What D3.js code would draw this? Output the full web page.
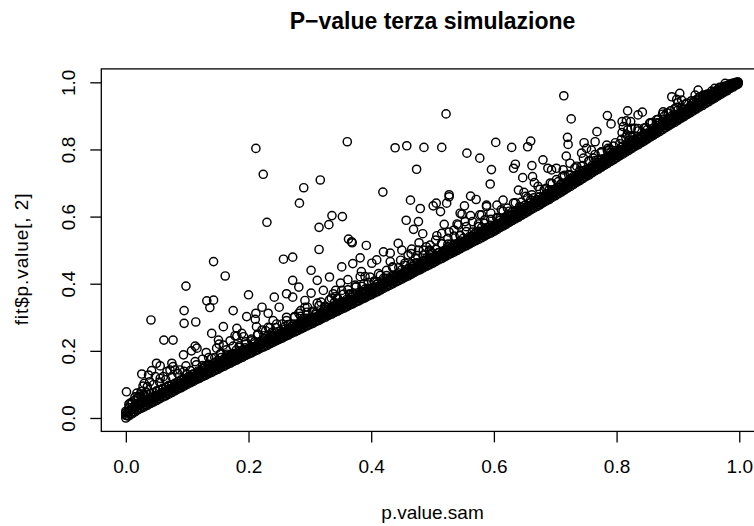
<!DOCTYPE html>
<html>
<head>
<meta charset="utf-8">
<script src="https://cdn.jsdelivr.net/npm/d3@7"></script>
<style>
  body { margin: 0; background: #fff; }
  text { font-family: "Liberation Sans", Arial, Helvetica, sans-serif; fill: #000; }
</style>
</head>
<body>
<div id="chart"></div>
<script>
// P-value scatter (R base-graphics look): dense band near the lower bound + scattered points above

const xTicks = [0, 0.2, 0.4, 0.6, 0.8, 1.0];
const yTicks = [0, 0.2, 0.4, 0.6, 0.8, 1.0];

// dense band: x positions and layers of y
const bandX = [0,0.005,0.01,0.015,0.02,0.025,0.03,0.035,0.04,0.045,0.05,0.055,0.06,0.065,0.07,0.075,0.08,0.085,0.09,0.095,0.1,
  0.105,0.11,0.115,0.12,0.125,0.13,0.135,0.14,0.145,0.15,0.155,0.16,0.165,0.17,0.175,0.18,0.185,0.19,0.195,0.2,
  0.205,0.21,0.215,0.22,0.225,0.23,0.235,0.24,0.245,0.25,0.255,0.26,0.265,0.27,0.275,0.28,0.285,0.29,0.295,0.3,
  0.305,0.31,0.315,0.32,0.325,0.33,0.335,0.34,0.345,0.35,0.355,0.36,0.365,0.37,0.375,0.38,0.385,0.39,0.395,0.4,
  0.405,0.41,0.415,0.42,0.425,0.43,0.435,0.44,0.445,0.45,0.455,0.46,0.465,0.47,0.475,0.48,0.485,0.49,0.495,0.5,
  0.505,0.51,0.515,0.52,0.525,0.53,0.535,0.54,0.545,0.55,0.555,0.56,0.565,0.57,0.575,0.58,0.585,0.59,0.595,0.6,
  0.605,0.61,0.615,0.62,0.625,0.63,0.635,0.64,0.645,0.65,0.655,0.66,0.665,0.67,0.675,0.68,0.685,0.69,0.695,0.7,
  0.705,0.71,0.715,0.72,0.725,0.73,0.735,0.74,0.745,0.75,0.755,0.76,0.765,0.77,0.775,0.78,0.785,0.79,0.795,0.8,
  0.805,0.81,0.815,0.82,0.825,0.83,0.835,0.84,0.845,0.85,0.855,0.86,0.865,0.87,0.875,0.88,0.885,0.89,0.895,0.9,
  0.905,0.91,0.915,0.92,0.925,0.93,0.935,0.94,0.945,0.95,0.955,0.96,0.965,0.97,0.975,0.98,0.985,0.99,0.995,0.998];

const bandLow = [0,0.006,0.012,0.018,0.024,0.029,0.033,0.038,0.043,0.047,0.052,0.057,0.062,0.066,0.071,0.076,0.081,0.086,0.090,0.095,0.100,
  0.105,0.109,0.114,0.118,0.123,0.127,0.132,0.136,0.141,0.145,0.150,0.154,0.159,0.163,0.168,0.172,0.177,0.181,0.186,0.190,
  0.194,0.199,0.203,0.208,0.212,0.216,0.221,0.225,0.230,0.234,0.238,0.243,0.247,0.252,0.256,0.260,0.265,0.269,0.274,0.278,
  0.282,0.287,0.291,0.296,0.300,0.305,0.309,0.314,0.318,0.323,0.327,0.331,0.336,0.340,0.345,0.349,0.354,0.358,0.363,0.367,
  0.372,0.376,0.381,0.386,0.391,0.395,0.400,0.405,0.409,0.414,0.419,0.423,0.428,0.433,0.438,0.442,0.447,0.452,0.456,0.461,
  0.466,0.471,0.475,0.480,0.485,0.490,0.494,0.499,0.504,0.509,0.513,0.518,0.523,0.528,0.532,0.537,0.542,0.547,0.551,0.556,
  0.561,0.567,0.572,0.577,0.583,0.588,0.593,0.598,0.604,0.609,0.614,0.620,0.625,0.630,0.635,0.641,0.646,0.651,0.657,0.662,
  0.668,0.673,0.679,0.685,0.690,0.696,0.702,0.707,0.713,0.719,0.724,0.730,0.736,0.741,0.747,0.753,0.758,0.764,0.769,0.775,
  0.781,0.786,0.792,0.797,0.803,0.809,0.814,0.820,0.825,0.831,0.837,0.842,0.848,0.853,0.859,0.865,0.870,0.876,0.881,0.887,
  0.893,0.898,0.904,0.909,0.915,0.920,0.926,0.931,0.937,0.942,0.948,0.953,0.959,0.964,0.970,0.975,0.981,0.986,0.992,0.995];

const bandMid = [0.008,0.018,0.028,0.038,0.044,0.048,0.051,0.054,0.058,0.061,0.065,0.069,0.074,0.077,0.082,0.086,0.091,0.096,0.100,0.105,0.110,
  0.114,0.120,0.122,0.128,0.135,0.136,0.139,0.146,0.152,0.154,0.159,0.165,0.167,0.173,0.180,0.181,0.184,0.191,0.197,0.199,
  0.203,0.210,0.211,0.218,0.224,0.225,0.228,0.235,0.241,0.243,0.247,0.254,0.255,0.262,0.268,0.269,0.272,0.279,0.285,0.287,
  0.291,0.298,0.299,0.306,0.312,0.314,0.316,0.324,0.329,0.332,0.336,0.342,0.344,0.350,0.357,0.358,0.361,0.368,0.374,0.376,
  0.381,0.387,0.389,0.396,0.403,0.404,0.407,0.415,0.420,0.423,0.428,0.434,0.436,0.443,0.450,0.451,0.454,0.462,0.467,0.470,
  0.475,0.482,0.483,0.490,0.497,0.499,0.501,0.509,0.515,0.518,0.522,0.529,0.531,0.538,0.544,0.546,0.549,0.557,0.562,0.565,
  0.570,0.578,0.580,0.587,0.595,0.597,0.600,0.608,0.615,0.618,0.623,0.631,0.633,0.640,0.647,0.650,0.653,0.661,0.668,0.671,
  0.677,0.684,0.687,0.695,0.702,0.705,0.709,0.717,0.724,0.728,0.733,0.741,0.744,0.751,0.759,0.762,0.765,0.774,0.780,0.784,
  0.790,0.797,0.800,0.807,0.815,0.818,0.821,0.830,0.836,0.840,0.846,0.853,0.856,0.863,0.871,0.874,0.877,0.886,0.892,0.896,
  0.902,0.909,0.912,0.919,0.927,0.929,0.933,0.941,0.947,0.950,0.955,0.961,0.965,0.970,0.976,0.980,0.985,0.990,0.995,0.998];

const bandUpper = [0.020,0.031,0.042,0.053,0.059,0.063,0.066,0.070,0.073,0.076,0.080,0.084,0.088,0.091,0.095,0.099,0.103,0.108,0.111,0.116,0.120,
  0.123,0.131,0.130,0.138,0.147,0.144,0.153,0.155,0.164,0.160,0.168,0.176,0.175,0.183,0.192,0.189,0.198,0.200,0.209,0.205,
  0.212,0.221,0.219,0.228,0.236,0.233,0.242,0.244,0.253,0.249,0.256,0.265,0.263,0.272,0.280,0.277,0.286,0.288,0.297,0.293,
  0.300,0.309,0.307,0.316,0.324,0.322,0.330,0.333,0.341,0.338,0.345,0.353,0.352,0.360,0.369,0.366,0.375,0.377,0.386,0.382,
  0.390,0.398,0.397,0.406,0.415,0.412,0.421,0.424,0.432,0.429,0.437,0.445,0.444,0.453,0.462,0.459,0.468,0.471,0.479,0.476,
  0.484,0.493,0.491,0.500,0.509,0.507,0.515,0.518,0.527,0.524,0.531,0.540,0.539,0.548,0.556,0.554,0.563,0.566,0.574,0.571,
  0.579,0.589,0.588,0.597,0.607,0.605,0.614,0.617,0.627,0.624,0.632,0.642,0.641,0.650,0.659,0.658,0.667,0.670,0.680,0.677,
  0.686,0.695,0.695,0.705,0.714,0.713,0.723,0.726,0.736,0.734,0.742,0.752,0.752,0.761,0.771,0.770,0.779,0.783,0.792,0.790,
  0.799,0.808,0.808,0.817,0.827,0.826,0.835,0.839,0.848,0.846,0.855,0.864,0.864,0.873,0.883,0.882,0.891,0.895,0.904,0.902,
  0.911,0.920,0.920,0.929,0.939,0.937,0.947,0.950,0.960,0.957,0.964,0.972,0.973,0.978,0.985,0.986,0.992,0.995,0.999,1.000];

// second band layer, offset half a step in x
const bandX2 = [0.0025,0.0075,0.0125,0.0175,0.0225,0.0275,0.0325,0.0375,0.0425,0.0475,0.0525,0.0575,0.0625,0.0675,0.0725,0.0775,0.0825,0.0875,0.0925,0.0975,
  0.1025,0.1075,0.1125,0.1175,0.1225,0.1275,0.1325,0.1375,0.1425,0.1475,0.1525,0.1575,0.1625,0.1675,0.1725,0.1775,0.1825,0.1875,0.1925,0.1975,
  0.2025,0.2075,0.2125,0.2175,0.2225,0.2275,0.2325,0.2375,0.2425,0.2475,0.2525,0.2575,0.2625,0.2675,0.2725,0.2775,0.2825,0.2875,0.2925,0.2975,
  0.3025,0.3075,0.3125,0.3175,0.3225,0.3275,0.3325,0.3375,0.3425,0.3475,0.3525,0.3575,0.3625,0.3675,0.3725,0.3775,0.3825,0.3875,0.3925,0.3975,
  0.4025,0.4075,0.4125,0.4175,0.4225,0.4275,0.4325,0.4375,0.4425,0.4475,0.4525,0.4575,0.4625,0.4675,0.4725,0.4775,0.4825,0.4875,0.4925,0.4975,
  0.5025,0.5075,0.5125,0.5175,0.5225,0.5275,0.5325,0.5375,0.5425,0.5475,0.5525,0.5575,0.5625,0.5675,0.5725,0.5775,0.5825,0.5875,0.5925,0.5975,
  0.6025,0.6075,0.6125,0.6175,0.6225,0.6275,0.6325,0.6375,0.6425,0.6475,0.6525,0.6575,0.6625,0.6675,0.6725,0.6775,0.6825,0.6875,0.6925,0.6975,
  0.7025,0.7075,0.7125,0.7175,0.7225,0.7275,0.7325,0.7375,0.7425,0.7475,0.7525,0.7575,0.7625,0.7675,0.7725,0.7775,0.7825,0.7875,0.7925,0.7975,
  0.8025,0.8075,0.8125,0.8175,0.8225,0.8275,0.8325,0.8375,0.8425,0.8475,0.8525,0.8575,0.8625,0.8675,0.8725,0.8775,0.8825,0.8875,0.8925,0.8975,
  0.9025,0.9075,0.9125,0.9175,0.9225,0.9275,0.9325,0.9375,0.9425,0.9475,0.9525,0.9575,0.9625,0.9675,0.9725,0.9775,0.9825,0.9875,0.9925,0.9965];

const bandLow2 = [0.006,0.012,0.018,0.024,0.030,0.034,0.039,0.044,0.048,0.053,0.058,0.063,0.067,0.072,0.077,0.082,0.087,0.091,0.096,0.101,
  0.106,0.110,0.115,0.119,0.124,0.128,0.133,0.137,0.142,0.146,0.151,0.155,0.160,0.164,0.169,0.173,0.178,0.182,0.187,0.191,
  0.195,0.200,0.204,0.209,0.213,0.217,0.222,0.226,0.231,0.235,0.239,0.244,0.248,0.253,0.257,0.261,0.266,0.270,0.275,0.279,
  0.283,0.288,0.292,0.297,0.301,0.306,0.310,0.315,0.319,0.324,0.328,0.332,0.337,0.341,0.346,0.350,0.355,0.359,0.364,0.368,
  0.373,0.377,0.382,0.387,0.392,0.396,0.401,0.406,0.410,0.415,0.420,0.424,0.429,0.434,0.439,0.443,0.448,0.453,0.457,0.462,
  0.467,0.472,0.476,0.481,0.486,0.491,0.495,0.500,0.505,0.510,0.514,0.519,0.524,0.529,0.533,0.538,0.543,0.548,0.552,0.557,
  0.562,0.567,0.573,0.578,0.583,0.589,0.594,0.599,0.604,0.610,0.615,0.620,0.626,0.631,0.636,0.641,0.647,0.652,0.657,0.663,
  0.668,0.674,0.679,0.685,0.691,0.696,0.702,0.708,0.713,0.719,0.725,0.730,0.736,0.742,0.747,0.753,0.759,0.764,0.770,0.775,
  0.781,0.787,0.792,0.798,0.803,0.809,0.815,0.820,0.826,0.831,0.837,0.843,0.848,0.854,0.859,0.865,0.871,0.876,0.882,0.887,
  0.893,0.899,0.904,0.910,0.915,0.921,0.926,0.932,0.937,0.943,0.948,0.954,0.959,0.965,0.970,0.976,0.981,0.987,0.992,0.997];

const bandMid2 = [0.015,0.024,0.026,0.035,0.039,0.046,0.047,0.055,0.057,0.065,0.066,0.074,0.076,0.084,0.085,0.093,0.096,0.103,0.104,0.112,
  0.115,0.122,0.123,0.130,0.133,0.140,0.141,0.148,0.151,0.158,0.159,0.166,0.169,0.176,0.177,0.184,0.187,0.194,0.195,0.202,
  0.204,0.212,0.212,0.220,0.222,0.229,0.230,0.237,0.240,0.247,0.247,0.255,0.257,0.265,0.265,0.272,0.275,0.282,0.283,0.290,
  0.292,0.300,0.300,0.308,0.310,0.318,0.318,0.326,0.328,0.336,0.336,0.343,0.346,0.353,0.354,0.361,0.364,0.371,0.372,0.379,
  0.382,0.389,0.390,0.398,0.401,0.408,0.409,0.417,0.419,0.427,0.428,0.435,0.438,0.446,0.447,0.454,0.457,0.465,0.465,0.473,
  0.476,0.484,0.484,0.492,0.495,0.503,0.503,0.511,0.514,0.522,0.522,0.530,0.533,0.541,0.541,0.549,0.552,0.560,0.560,0.568,
  0.571,0.579,0.581,0.589,0.592,0.601,0.602,0.610,0.613,0.622,0.623,0.631,0.635,0.643,0.644,0.652,0.656,0.664,0.665,0.674,
  0.677,0.686,0.687,0.696,0.700,0.708,0.710,0.719,0.722,0.731,0.733,0.741,0.745,0.754,0.755,0.764,0.768,0.776,0.778,0.786,
  0.790,0.799,0.800,0.809,0.812,0.821,0.823,0.831,0.835,0.843,0.845,0.854,0.857,0.866,0.867,0.876,0.880,0.888,0.890,0.898,
  0.902,0.911,0.912,0.921,0.924,0.933,0.934,0.943,0.946,0.955,0.956,0.965,0.968,0.975,0.977,0.984,0.988,0.993,0.997,0.999];

const bandTopX = [0,0.01,0.02,0.03,0.04,0.05,0.06,0.07,0.08,0.09,0.1,
  0.11,0.12,0.13,0.14,0.15,0.16,0.17,0.18,0.19,0.2,
  0.21,0.22,0.23,0.24,0.25,0.26,0.27,0.28,0.29,0.3,
  0.31,0.32,0.33,0.34,0.35,0.36,0.37,0.38,0.39,0.4,
  0.41,0.42,0.43,0.44,0.45,0.46,0.47,0.48,0.49,0.5,
  0.51,0.52,0.53,0.54,0.55,0.56,0.57,0.58,0.59,0.6,
  0.61,0.62,0.63,0.64,0.65,0.66,0.67,0.68,0.69,0.7,
  0.71,0.72,0.73,0.74,0.75,0.76,0.77,0.78,0.79,0.8,
  0.81,0.82,0.83,0.84,0.85,0.86,0.87,0.88,0.89,0.9,
  0.91,0.92,0.93,0.94,0.95,0.96,0.97,0.98,0.99,0.998];

const bandTop = [0.015,0.047,0.064,0.068,0.073,0.080,0.086,0.097,0.101,0.114,0.130,
  0.130,0.135,0.155,0.156,0.171,0.172,0.187,0.202,0.202,0.207,
  0.227,0.228,0.242,0.243,0.258,0.273,0.273,0.277,0.297,0.298,
  0.313,0.314,0.329,0.344,0.344,0.348,0.368,0.369,0.384,0.385,
  0.400,0.416,0.416,0.422,0.442,0.443,0.459,0.460,0.476,0.491,
  0.492,0.497,0.518,0.519,0.535,0.536,0.552,0.567,0.568,0.573,
  0.595,0.597,0.614,0.616,0.633,0.650,0.651,0.658,0.679,0.682,
  0.699,0.703,0.720,0.737,0.740,0.747,0.769,0.773,0.790,0.793,
  0.810,0.827,0.830,0.837,0.859,0.862,0.879,0.883,0.900,0.917,
  0.919,0.926,0.948,0.951,0.964,0.971,0.984,0.990,0.998,1.001];

const bandEdgeX = [0.005,0.015,0.025,0.035,0.045,0.055,0.065,0.075,0.085,0.095,
  0.105,0.115,0.125,0.135,0.145,0.155,0.165,0.175,0.185,0.195,
  0.205,0.215,0.225,0.235,0.245,0.255,0.265,0.275,0.285,0.295,
  0.305,0.315,0.325,0.335,0.345,0.355,0.365,0.375,0.385,0.395,
  0.405,0.415,0.425,0.435,0.445,0.455,0.465,0.475,0.485,0.495,
  0.505,0.515,0.525,0.535,0.545,0.555,0.565,0.575,0.585,0.595,
  0.605,0.615,0.625,0.635,0.645,0.655,0.665,0.675,0.685,0.695,
  0.705,0.715,0.725,0.735,0.745,0.755,0.765,0.775,0.785,0.795,
  0.805,0.815,0.825,0.835,0.845,0.855,0.865,0.875,0.885,0.895,
  0.905,0.915,0.925,0.935,0.945,0.955,0.965,0.975,0.985,0.995];

const bandEdge = [0.041,0.063,0.079,0.093,0.099,0.107,0.114,0.123,0.132,0.139,
  0.141,0.158,0.156,0.180,0.180,0.192,0.190,0.214,0.215,0.227,
  0.230,0.247,0.245,0.269,0.269,0.280,0.278,0.302,0.303,0.315,
  0.318,0.335,0.333,0.357,0.357,0.369,0.367,0.391,0.392,0.404,
  0.408,0.425,0.424,0.448,0.448,0.461,0.459,0.484,0.485,0.497,
  0.502,0.519,0.518,0.542,0.543,0.555,0.554,0.578,0.580,0.592,
  0.597,0.616,0.616,0.641,0.643,0.656,0.656,0.681,0.684,0.698,
  0.704,0.723,0.723,0.750,0.752,0.766,0.767,0.793,0.796,0.810,
  0.817,0.836,0.836,0.862,0.864,0.879,0.879,0.905,0.908,0.922,
  0.923,0.938,0.943,0.956,0.962,0.974,0.979,0.988,0.995,1.000];

// scattered points above the band
const scatterPts = [
  [0.212,0.803],[0.224,0.726],[0.230,0.583],[0.361,0.823],[0.522,0.906],[0.439,0.805],[0.458,0.811],[0.486,0.806],
  [0.515,0.806],[0.556,0.789],[0.577,0.774],[0.603,0.821],[0.629,0.806],[0.655,0.808],[0.660,0.825],[0.596,0.740],
  [0.594,0.697],[0.474,0.741],[0.419,0.673],[0.317,0.709],[0.290,0.686],[0.283,0.640],[0.336,0.603],[0.353,0.600],
  [0.331,0.576],[0.315,0.568],[0.363,0.533],[0.369,0.522],[0.392,0.514],[0.315,0.502],[0.257,0.473],[0.272,0.479],
  [0.382,0.477],[0.444,0.520],[0.457,0.589],[0.469,0.562],[0.477,0.585],[0.484,0.549],[0.464,0.649],[0.480,0.624],
  [0.501,0.632],[0.506,0.640],[0.513,0.615],[0.523,0.640],[0.527,0.665],[0.527,0.659],[0.552,0.632],[0.562,0.661],
  [0.571,0.651],[0.588,0.634],[0.615,0.649],[0.647,0.716],[0.663,0.719],[0.666,0.701],[0.662,0.752],[0.635,0.756],
  [0.632,0.744],[0.680,0.769],[0.688,0.744],[0.640,0.679],[0.649,0.672],[0.519,0.577],[0.540,0.578],[0.548,0.607],
  [0.562,0.603],[0.577,0.605],[0.507,0.543],[0.515,0.550],[0.527,0.554],[0.420,0.495],[0.431,0.491],[0.450,0.500],
  [0.466,0.503],[0.490,0.510],[0.496,0.486],
  [0.714,0.960],[0.726,0.891],[0.720,0.836],[0.721,0.815],[0.718,0.780],[0.768,0.853],[0.785,0.901],[0.791,0.876],
  [0.818,0.915],[0.835,0.903],[0.842,0.911],[0.809,0.883],[0.816,0.885],[0.823,0.883],[0.811,0.868],[0.818,0.858],
  [0.824,0.863],[0.809,0.850],[0.817,0.843],[0.830,0.863],[0.890,0.957],[0.898,0.949],[0.903,0.967],[0.906,0.947],
  [0.900,0.939],[0.928,0.962],[0.933,0.977],[0.941,0.962],[0.876,0.912],[0.882,0.909],[0.854,0.878],[0.865,0.888],
  [0.960,0.982],[0.977,0.997],[0.747,0.820],[0.751,0.803],[0.743,0.789],[0.759,0.798],[0.746,0.774],[0.762,0.774],
  [0.765,0.823],[0.784,0.813],[0.786,0.803],[0.724,0.759],[0.713,0.739],[0.702,0.744],[0.694,0.739],
  [0.143,0.466],[0.162,0.423],[0.098,0.393],[0.200,0.367],[0.132,0.349],[0.143,0.351],[0.137,0.329],[0.095,0.320],
  [0.095,0.282],[0.114,0.286],[0.041,0.292],[0.175,0.320],[0.197,0.302],[0.211,0.294],[0.213,0.272],[0.062,0.232],
  [0.077,0.232],[0.140,0.252],[0.159,0.272],[0.181,0.267],[0.189,0.252],[0.181,0.244],[0.192,0.242],[0.151,0.232],
  [0.152,0.220],[0.159,0.217],[0.107,0.200],[0.113,0.214],[0.116,0.208],[0.094,0.188],[0.131,0.195],[0.125,0.175],
  [0.098,0.155],[0.113,0.168],[0.050,0.163],[0.056,0.155],[0.026,0.131],[0.042,0.141],[0.037,0.128],[0.001,0.078],
  [0.018,0.074],[0.007,0.044],[0.028,0.095],[0.033,0.077],[0.077,0.153],[0.080,0.143],[0.067,0.138],[0.056,0.118],
  [0.061,0.123],[0.148,0.208],[0.140,0.178],[0.154,0.191],[0.164,0.203],[0.030,0.103],[0.039,0.108],[0.048,0.123],
  [0.023,0.069],[0.072,0.143],[0.088,0.143],[0.075,0.163],
  [0.384,0.436],[0.390,0.421],[0.368,0.525],[0.478,0.522],[0.545,0.610],[0.553,0.585],[0.542,0.575],[0.496,0.515],
  [0.477,0.500],[0.460,0.486],[0.431,0.466],[0.409,0.471],[0.401,0.461],[0.382,0.421],[0.374,0.396],[0.580,0.605],
  [0.588,0.630],[0.605,0.634],
  [0.240,0.290],[0.250,0.330],[0.262,0.370],[0.272,0.360],[0.282,0.390],[0.292,0.350],[0.302,0.372],[0.312,0.410],
  [0.322,0.380],[0.332,0.420],[0.342,0.380],[0.350,0.402],[0.352,0.450],[0.362,0.412],[0.370,0.460],[0.232,0.270],
  [0.222,0.262],[0.262,0.300],[0.282,0.312],[0.292,0.330],[0.312,0.342],[0.332,0.352],[0.342,0.362],[0.362,0.382],
  [0.272,0.410],[0.302,0.440],[0.242,0.360],[0.222,0.330],[0.212,0.312],[0.232,0.312],
  [0.205,0.235],[0.215,0.250],[0.228,0.260],[0.238,0.255],[0.246,0.280],[0.262,0.290],[0.275,0.300],[0.285,0.320],
  [0.296,0.330],[0.305,0.315],[0.318,0.345],[0.325,0.330],[0.338,0.370],[0.345,0.355],[0.352,0.380],[0.365,0.370],
  [0.375,0.390],[0.388,0.400],[0.398,0.420],[0.405,0.405],[0.412,0.430],[0.425,0.440],[0.435,0.450],[0.448,0.470],
  [0.455,0.455],[0.465,0.490],[0.472,0.475],[0.485,0.500],[0.495,0.500],[0.505,0.530],[0.515,0.520],[0.525,0.535],
  [0.535,0.560],[0.545,0.545],[0.555,0.570],[0.565,0.585],[0.575,0.570],[0.585,0.590],[0.595,0.610],[0.605,0.595],
  [0.612,0.620],[0.622,0.625],[0.632,0.640],[0.642,0.630],[0.652,0.660],[0.662,0.665],[0.672,0.690],[0.682,0.680],
  [0.692,0.700],[0.702,0.710],[0.712,0.720],[0.722,0.725],[0.732,0.745],[0.742,0.750],[0.755,0.765],[0.765,0.785],
  [0.775,0.790],[0.788,0.800],[0.798,0.820],[0.808,0.830],[0.822,0.840],[0.835,0.855],[0.848,0.865],[0.858,0.880],
  [0.868,0.890],[0.878,0.900],[0.888,0.915],[0.898,0.925],[0.912,0.935],[0.922,0.945],[0.935,0.955],[0.948,0.965],
  [0.958,0.972],[0.968,0.985],[0.985,0.995],
  [0.105,0.125],[0.118,0.140],[0.128,0.150],[0.135,0.160],[0.145,0.165],[0.155,0.180],[0.165,0.185],[0.172,0.190],
  [0.185,0.210],[0.195,0.220],[0.170,0.230],[0.178,0.245]
];

const mainTitle = "P\u2212value terza simulazione";
const xLabel = "p.value.sam";
const yLabel = "fit$p.value[, 2]";

// layout (R base plot, picture cropped on the right and bottom)
const width = 754, height = 526;
const box = { left: 101.3, right: 763.8, top: 68.9, bottom: 431.4 };

const svg = d3.select("#chart")
  .append("svg")
    .attr("width", width)
    .attr("height", height)
    .style("background", "#fff");

const x = d3.scaleLinear().domain([-0.04, 1.04]).range([box.left, box.right]);
const y = d3.scaleLinear().domain([-0.04, 1.04]).range([box.bottom, box.top]);

// collect all points
const points = [];
bandX.forEach((bx, i) => {
  points.push([bx, bandLow[i]]);
  points.push([bx, bandMid[i]]);
  points.push([bx, bandUpper[i]]);
});
bandX2.forEach((bx, i) => {
  points.push([bx, bandLow2[i]]);
  points.push([bx, bandMid2[i]]);
});
bandTopX.forEach((bx, i) => points.push([bx, bandTop[i]]));
bandEdgeX.forEach((bx, i) => points.push([bx, bandEdge[i]]));
scatterPts.forEach(p => points.push(p));

svg.append("g")
  .selectAll("circle")
  .data(points)
  .enter()
  .append("circle")
    .attr("cx", d => x(d[0]))
    .attr("cy", d => y(d[1]))
    .attr("r", 4.1)
    .attr("fill", "none")
    .attr("stroke", "#000")
    .attr("stroke-width", 1.45);

// box
svg.append("rect")
  .attr("x", box.left)
  .attr("y", box.top)
  .attr("width", box.right - box.left)
  .attr("height", box.bottom - box.top)
  .attr("fill", "none")
  .attr("stroke", "#000")
  .attr("stroke-width", 1.3);

// x axis
svg.append("g")
  .attr("transform", `translate(0,${box.bottom})`)
  .call(d3.axisBottom(x).tickValues(xTicks).tickFormat(d3.format(".1f")).tickSize(11).tickSizeOuter(0))
  .call(g => g.select(".domain").remove())
  .call(g => g.selectAll(".tick line").attr("stroke", "#000").attr("stroke-width", 1.3))
  .call(g => g.selectAll(".tick text")
    .attr("y", 41.5).attr("dy", 0)
    .attr("fill", "#000")
    .style("font-size", "19px")
    .style("font-family", "'Liberation Sans', Arial, Helvetica, sans-serif"));

// y axis
svg.append("g")
  .attr("transform", `translate(${box.left},0)`)
  .call(d3.axisLeft(y).tickValues(yTicks).tickFormat(d3.format(".1f")).tickSize(11).tickSizeOuter(0))
  .call(g => g.select(".domain").remove())
  .call(g => g.selectAll(".tick line").attr("stroke", "#000").attr("stroke-width", 1.3))
  .call(g => g.selectAll(".tick text")
    .attr("transform", "rotate(-90)")
    .attr("x", 0).attr("y", -26.5).attr("dy", 0)
    .attr("text-anchor", "middle")
    .attr("fill", "#000")
    .style("font-size", "19px")
    .style("font-family", "'Liberation Sans', Arial, Helvetica, sans-serif"));

// titles
const cx = (box.left + box.right) / 2;
svg.append("text")
  .attr("x", cx)
  .attr("y", 28.5)
  .attr("text-anchor", "middle")
  .style("font-size", "23px")
  .style("font-weight", "bold")
  .text(mainTitle);

svg.append("text")
  .attr("x", cx)
  .attr("y", 519)
  .attr("text-anchor", "middle")
  .style("font-size", "19px")
  .text(xLabel);

svg.append("text")
  .attr("transform", "translate(28,259) rotate(-90)")
  .attr("text-anchor", "middle")
  .style("font-size", "19px")
  .style("letter-spacing", "0.9px")
  .text(yLabel);
</script>
</body>
</html>
